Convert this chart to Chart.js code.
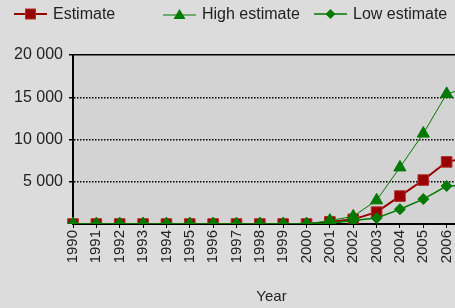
<!DOCTYPE html>
<html>
<head>
<meta charset="utf-8">
<script src="https://cdn.jsdelivr.net/npm/chart.js@4.4.1/dist/chart.umd.min.js"></script>
<style>
  html, body { margin:0; padding:0; background:#dcdcdc; overflow:hidden; width:455px; height:308px; }
  #wrap { position:relative; width:490px; height:308px; }
  #legend { position:absolute; left:14px; top:4px; height:20px; display:flex; font:16px "Liberation Sans", Arial, sans-serif; color:#222; }
  .item { display:flex; align-items:center; height:20px; }
  .item svg { margin-right:6px; }
</style>
</head>
<body>
<div id="wrap">
  <div id="legend">
    <div class="item" style="width:149px">
      <svg width="33" height="14"><line x1="0" y1="7" x2="33" y2="7" stroke="#990000" stroke-width="2"/><rect x="11.5" y="2" width="10" height="10" fill="#990000" stroke="#b03030"/></svg>Estimate
    </div>
    <div class="item" style="width:151px">
      <svg width="33" height="14"><line x1="0" y1="8" x2="33" y2="8" stroke="#007a00" stroke-width="1"/><polygon points="16.5,2 22.5,12 10.5,12" fill="#007a00"/></svg>High estimate
    </div>
    <div class="item">
      <svg width="33" height="14"><line x1="0" y1="7" x2="33" y2="7" stroke="#007a00" stroke-width="1.5"/><polygon points="16.5,2 21.5,7 16.5,12 11.5,7" fill="#007a00"/></svg>Low estimate
    </div>
  </div>
  <canvas id="chart" width="490" height="308"></canvas>
</div>
<script>
// данные
const years = ['1990','1991','1992','1993','1994','1995','1996','1997','1998','1999',
               '2000','2001','2002','2003','2004','2005','2006','2007'];
const estimate     = [0,0,0,0,0,0,0,0,0,0,0, 250, 550, 1400, 3300, 5200, 7350, 7900];
const highEstimate = [0,0,0,0,0,0,0,0,0,0,0, 400, 900, 2800, 6700, 10700, 15400, 16200];
const lowEstimate  = [0,0,0,0,0,0,0,0,0,0,0, 100, 400, 700, 1750, 2950, 4500, 4550];
const yTicks = [0, 5000, 10000, 15000, 20000];

const font = { family: '"Liberation Sans", Arial, sans-serif', size: 15 };
const yFont = { family: '"Liberation Sans", Arial, sans-serif', size: 16 };

// фон области графика
const plotBg = {
  id: 'plotBg',
  beforeDraw(chart) {
    const { ctx, chartArea: a } = chart;
    ctx.save();
    ctx.fillStyle = '#d3d3d3';
    ctx.fillRect(a.left, a.top, a.right - a.left, a.bottom - a.top);
    ctx.restore();
  }
};

new Chart(document.getElementById('chart').getContext('2d'), {
  type: 'line',
  data: {
    labels: years,
    datasets: [
      {
        label: 'Low estimate',
        data: lowEstimate,
        borderColor: '#007a00',
        borderWidth: 1.5,
        pointStyle: 'rectRot',
        pointRadius: 5.5,
        pointBackgroundColor: '#007a00',
        pointBorderColor: '#007a00',
        pointBorderWidth: 1
      },
      {
        label: 'High estimate',
        data: highEstimate,
        borderColor: '#007a00',
        borderWidth: 1,
        pointStyle: 'triangle',
        pointRadius: 7,
        pointBackgroundColor: '#007a00',
        pointBorderColor: '#007a00',
        pointBorderWidth: 1
      },
      {
        label: 'Estimate',
        data: estimate,
        borderColor: '#990000',
        borderWidth: 2,
        pointStyle: 'rect',
        pointRadius: 7.5,
        pointBackgroundColor: '#990000',
        pointBorderColor: '#b03030',
        pointBorderWidth: 1
      }
    ]
  },
  options: {
    responsive: false,
    animation: false,
    layout: { padding: { top: 55, right: 0, left: 0, bottom: 0 } },
    plugins: { legend: { display: false }, tooltip: { enabled: false } },
    scales: {
      x: {
        offset: false,
        grid: { display: true, drawOnChartArea: false, color: '#000', tickLength: 4, lineWidth: 1 },
        border: { display: true, color: '#000', width: 2 },
        ticks: { font, color: '#222', minRotation: 90, maxRotation: 90, autoSkip: false, padding: 2 },
        title: { display: true, text: 'Year', font, color: '#222', padding: { top: 0, bottom: 2 } },
        afterFit(scale) { scale.height = 84; }
      },
      y: {
        min: 0,
        max: 20000,
        afterBuildTicks(scale) { scale.ticks = yTicks.map(v => ({ value: v })); },
        grid: {
          color: '#000',
          tickLength: 4,
          lineWidth: c => (c.tick && c.tick.value === 0 ? 0 : 1.5)
        },
        border: {
          display: true, color: '#000', width: 2,
          dash: c => (c.tick && c.tick.value === 20000 ? [] : [1.5, 1.5])
        },
        ticks: {
          font: yFont, color: '#222', padding: 6,
          callback: v => (v === 0 ? '' : String(v).replace(/\B(?=(\d{3})+(?!\d))/g, ' '))
        },
        afterFit(scale) { scale.width = 73; }
      }
    }
  },
  plugins: [plotBg]
});
</script>
</body>
</html>
